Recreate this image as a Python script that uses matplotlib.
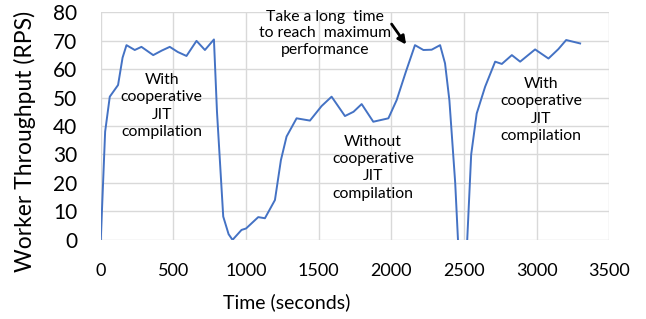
import matplotlib.pyplot as plt

plt.rcParams['font.family'] = ['Lato', 'DejaVu Sans']

# worker throughput
time_s = [0, 30, 62, 119, 150, 177, 234, 280, 361, 420, 475, 530, 590, 659, 717, 779,
          800, 843, 880, 907, 969, 1000, 1084, 1130, 1199, 1240, 1279, 1348, 1440,
          1520, 1589, 1681, 1740, 1796, 1876, 1980, 2037, 2100, 2163, 2221, 2278,
          2336, 2370, 2400, 2440, 2462, 2520, 2550, 2588, 2646, 2715, 2761, 2830,
          2887, 2990, 3082, 3150, 3204, 3300]
rps = [0, 38, 50.3, 54.4, 64, 68.4, 66.7, 67.8, 64.9, 66.5, 67.8, 66, 64.6, 69.9, 66.7, 70.4,
       45, 8.2, 2, 0, 3.5, 4, 8, 7.6, 14, 28, 36.3, 42.7, 41.9,
       47, 50.3, 43.5, 45, 47.7, 41.5, 42.7, 49.1, 59, 68.4, 66.7, 66.8,
       68.4, 62, 49, 20, -3, -3, 30, 44.4, 53.8, 62.6, 61.8, 64.9,
       62.6, 66.9, 63.7, 67, 70.2, 69]

annotations = [
    ("With\ncooperative\nJIT\ncompilation", 420, 47),
    ("Without\ncooperative\nJIT\ncompilation", 1874, 25.4),
    ("With\ncooperative\nJIT\ncompilation", 3032, 45.6),
]

fig = plt.figure(figsize=(6.46, 3.19), dpi=100)
ax = fig.add_axes([0.156, 0.248, 0.787, 0.714])

ax.plot(time_s, rps, color='#4472C4', lw=1.4)
ax.set_xlim(0, 3500)
ax.set_ylim(0, 80)
ax.set_xticks(range(0, 3501, 500))
ax.set_yticks(range(0, 81, 10))
ax.grid(True, color='#d9d9d9', lw=1)
ax.set_axisbelow(True)
for s in ax.spines.values():
    s.set_visible(False)
ax.tick_params(length=0)
ax.tick_params(axis='y', labelsize=15, pad=17)
ax.tick_params(axis='x', labelsize=13, pad=17)
ax.set_xlabel("Time (seconds)", fontsize=14)
ax.xaxis.set_label_coords(0.366, -0.272)
ax.xaxis.label.set_va('center')
ax.set_ylabel("Worker Throughput (RPS)", fontsize=16.5)
ax.yaxis.set_label_coords(-0.150, 0.434)
ax.yaxis.label.set_va('center')

for txt, x, y in annotations:
    ax.text(x, y, txt, ha='center', va='center', fontsize=11.3, linespacing=1.3)

ax.text(1543, 72.5, "Take a long  time\nto reach  maximum\nperformance", ha='center',
        va='center', fontsize=11.3, linespacing=1.2, clip_on=False)
ax.annotate("", xy=(2113, 67.8), xytext=(1991, 76.6),
            arrowprops=dict(arrowstyle='-|>', color='black', lw=2, mutation_scale=12),
            annotation_clip=False)

fig.savefig("out.png", dpi=100)
